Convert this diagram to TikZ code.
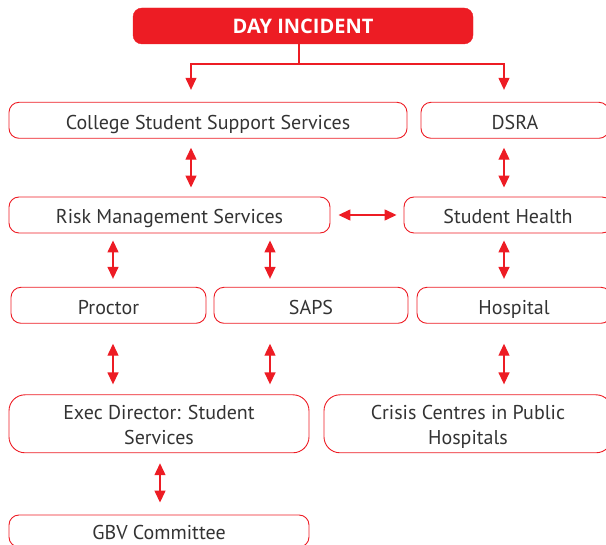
\documentclass[tikz,border=0pt]{standalone}
\usepackage{fontspec}
\setmainfont{PT Sans}
\newfontfamily\headfont{Open Sans}
\usetikzlibrary{arrows.meta}
\definecolor{incred}{HTML}{ED1C24}
\definecolor{txtgray}{HTML}{333333}
\tikzset{
  x=1pt, y=-1pt,
  box/.style={draw=incred, line width=0.9pt, rounded corners=10pt, text=txtgray,
    font=\fontsize{20}{25.7}\selectfont, inner sep=0pt, align=center,
    text height=20pt, text depth=2pt},
  twoline/.style={rounded corners=16pt, text height=44pt, text depth=1.6pt},
  headbox/.style={fill=incred, draw=incred, rounded corners=9pt, text=white,
    font=\headfont\fontsize{20}{22}\selectfont\bfseries, inner sep=0pt,
    text height=16pt, text depth=1.4pt,
    minimum width=340pt, minimum height=36pt},
  link/.style={draw=incred, line width=1.4pt},
  dbl/.style={link, {Triangle[length=12pt,width=11pt]}-{Triangle[length=12pt,width=11pt]},
    shorten <=9pt, shorten >=9pt},
}
\begin{document}
\begin{tikzpicture}
\useasboundingbox (0,0) rectangle (606,545);
\clip (0,0) rectangle (606,545);
\node[headbox] (day) at (303,26) {DAY INCIDENT};
\node[box, minimum width=398pt, minimum height=36pt] (css) at (208,120.3) {College Student Support Services};
\node[box, minimum width=188pt, minimum height=36pt] (dsra) at (515,120.3) {DSRA};
\node[box, minimum width=321pt, minimum height=36pt] (rms) at (169.5,215) {Risk Management Services};
\node[box, minimum width=208pt, minimum height=36pt] (sh) at (508,215) {Student Health};
\node[box, minimum width=195pt, minimum height=36pt] (proc) at (108.5,305.3) {Proctor};
\node[box, minimum width=194pt, minimum height=36pt] (saps) at (311,305.3) {SAPS};
\node[box, minimum width=194pt, minimum height=36pt] (hosp) at (514,305.3) {Hospital};
\node[box, twoline, minimum width=300pt, minimum height=58pt] (exec) at (159,423.8) {Exec Director: Student\\Services};
\node[box, twoline, minimum width=288pt, minimum height=58pt] (crisis) at (468,423.8) {Crisis Centres in Public\\Hospitals};
\node[box, minimum width=300pt, minimum height=32pt] (gbv) at (159,531) {GBV Committee};

\coordinate (ja) at (299,64);
\coordinate (xa) at (191,0);
\coordinate (xb) at (504,0);
\coordinate (xc) at (113,0);
\coordinate (xd) at (270,0);
\coordinate (xe) at (160,0);

\draw[link, line width=1.2pt] (day.south -| ja) -- (ja);
\draw[link, line width=1.2pt, -{Triangle[length=12pt,width=11pt]}, shorten >=12pt] (ja) -| (css.north -| xa);
\draw[link, line width=1.2pt, -{Triangle[length=12pt,width=11pt]}, shorten >=12pt] (ja) -| (dsra.north -| xb);

\draw[dbl] (css.south -| xa) -- (rms.north -| xa);
\draw[dbl] (dsra.south -| xb) -- (sh.north -| xb);
\draw[dbl, shorten <=8pt, shorten >=7pt] (rms.east) -- (sh.west);
\draw[dbl, shorten <=7pt, shorten >=8pt] (rms.south -| xc) -- (proc.north -| xc);
\draw[dbl, shorten <=7pt, shorten >=8pt] (rms.south -| xd) -- (saps.north -| xd);
\draw[dbl, shorten <=7pt, shorten >=8pt] (sh.south -| xb) -- (hosp.north -| xb);
\draw[dbl, shorten <=20pt, shorten >=10pt] (proc.south -| xc) -- (exec.north -| xc);
\draw[dbl, shorten <=20pt, shorten >=10pt] (saps.south -| xd) -- (exec.north -| xd);
\draw[dbl, shorten <=20pt, shorten >=10pt] (hosp.south -| xb) -- (crisis.north -| xb);
\draw[dbl, shorten <=10pt, shorten >=12pt] (exec.south -| xe) -- (gbv.north -| xe);
\end{tikzpicture}
\end{document}
